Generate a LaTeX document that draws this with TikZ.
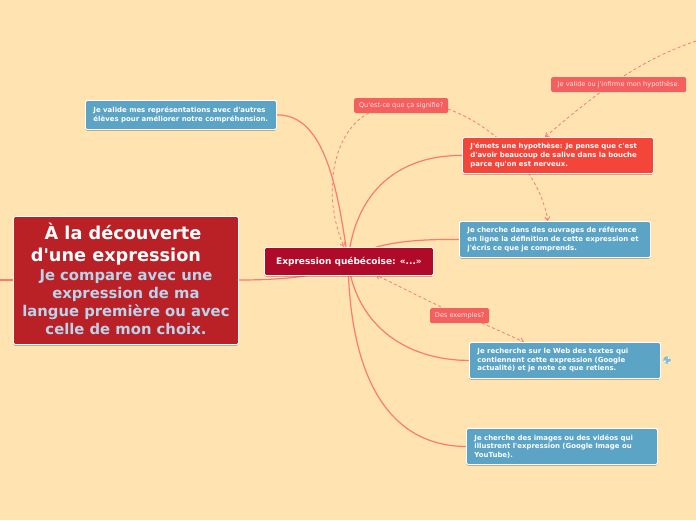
\documentclass[tikz,border=0pt]{standalone}
\usepackage{fontspec}
\setmainfont{DejaVu Sans}[Ligatures=TeXOff]
\usetikzlibrary{shadows,backgrounds,arrows.meta}
\definecolor{pagebg}{HTML}{FFE3B0}
\definecolor{linkc}{HTML}{F97B72}
\definecolor{bluebox}{HTML}{5CA4C6}
\definecolor{hypbox}{HTML}{F4453A}
\definecolor{centerbox}{HTML}{B00A2A}
\definecolor{titlebox}{HTML}{BA2126}
\definecolor{tagbox}{HTML}{F45F5F}
\definecolor{subtitle}{HTML}{B9D3EA}
\tikzset{
  x=1pt,y=-1pt,
  sz/.style 2 args={minimum width=#1pt,minimum height=#2pt},
  boxbase/.style={draw=white,line width=.9pt,rounded corners=1.5pt,
    drop shadow={shadow xshift=0pt,shadow yshift=-1.3pt,fill=black!60,opacity=.45},
    text=white,font=\fontsize{6.95}{8.6}\selectfont\bfseries,
    anchor=north west,inner sep=0pt,align=left},
  task/.style={boxbase,fill=bluebox},
  hyp/.style={boxbase,fill=hypbox},
  tag/.style={fill=tagbox,rounded corners=1.5pt,text=white!88!red,
    font=\fontsize{6.55}{8}\selectfont,anchor=north west,inner sep=0pt,align=center},
  link/.style={draw=linkc,line width=1.2pt},
  dashlink/.style={draw=linkc,line width=.8pt,dash pattern=on 3pt off 2.5pt},
  tip/.style={-{Straight Barb[length=3.5pt,width=5pt]}},
}
\begin{document}
\begin{tikzpicture}
\useasboundingbox (0,0) rectangle (696,520);
\coordinate (hub) at (348,261);
\coordinate (leftend) at (0,280);
\coordinate (rightend) at (696,41);
\coordinate (tipsig) at (344,247);
\coordinate (startsig) at (369,113);
\coordinate (startsigb) at (448,109);
\coordinate (tipouv) at (548,221);
\coordinate (tipemets) at (545,137);
\coordinate (tipcenter) at (376,275);
\coordinate (startex) at (441,307);
\coordinate (startexb) at (482,323);
\coordinate (tipweb) at (524,342);
\node[boxbase,fill=titlebox,sz={225}{128}] (title) at (13,216) {\parbox{225pt}{\centering
  \fontsize{17.7}{22}\selectfont À la découverte\rule{6pt}{0pt}\\ d'une expression\rule{20pt}{0pt}\par\vspace{1.5pt}
  \fontsize{14.8}{18}\selectfont\color{subtitle} Je compare avec une\\ expression de ma\\ langue première ou avec\\ celle de mon choix.\par\vspace{3pt}}};
\node[boxbase,fill=centerbox,sz={169}{28},align=center,
  font=\fontsize{9}{10}\selectfont\bfseries] (center) at (264,247) {Expression québécoise: «...»};
\node[task,sz={191}{29}] (valide) at (85,100) {\hspace*{8pt}\parbox{183pt}{Je valide mes représentations avec d'autres\\élèves pour améliorer notre compréhension.}};
\node[hyp,sz={191}{36}] (emets) at (462,137) {\hspace*{8pt}\parbox{183pt}{J'émets une hypothèse: Je pense que c'est\\d'avoir beaucoup de salive dans la bouche\\parce qu'on est nerveux.}};
\node[task,sz={191}{36}] (ouvrages) at (459,221) {\hspace*{8pt}\parbox{183pt}{Je cherche dans des ouvrages de référence\\en ligne la définition de cette expression et\\j'écris ce que je comprends.}};
\node[task,sz={191}{36}] (web) at (469,342) {\hspace*{8pt}\parbox{183pt}{Je recherche sur le Web des textes qui\\contiennent cette expression (Google\\actualité) et je note ce que retiens.}};
\node[task,sz={191}{36}] (images) at (466,428) {\hspace*{8pt}\parbox{183pt}{Je cherche des images ou des vidéos qui\\illustrent l'expression (Google Image ou\\YouTube).}};
\node[tag,sz={94}{15}] (signifie) at (354,98) {Qu'est-ce que ça signifie?};
\node[tag,sz={135}{15}] (infirme) at (551,77) {Je valide ou j'infirme mon hypothèse.};
\node[tag,sz={59}{15}] (exemples) at (430,308) {Des exemples?};
\node[circle,fill=bluebox!75!white,inner sep=0pt,minimum size=7.5pt] (globe) at (667,360) {};
\fill[white] (664.8,361.5) circle (1.3pt) (668.8,358) circle (1.1pt) (669,362.5) circle (.8pt);
\begin{scope}[on background layer]
  \fill[pagebg] (0,0) rectangle (696,520);
  \draw[link] (leftend) -- (title.west |- leftend);
  \draw[link] (title.east |- leftend) .. controls (290,280) and (330,275) .. (hub);
  \draw[link] (valide.east) .. controls (325,114) and (338,190) .. (hub);
  \draw[link] (emets.west) .. controls (400,155) and (355,190) .. (hub);
  \draw[link] (ouvrages.west) .. controls (410,239) and (370,243) .. (hub);
  \draw[link] (web.west) .. controls (400,360) and (355,320) .. (hub);
  \draw[link] (images.west) .. controls (390,446) and (350,380) .. (hub);
  \draw[dashlink,tip] (startsig) .. controls (335,130) and (320,190) .. (tipsig);
  \draw[dashlink,tip] (startsigb) .. controls (500,128) and (540,175) .. (tipouv);
  \draw[dashlink,tip] (rightend) .. controls (640,60) and (600,90) .. (tipemets);
  \draw[dashlink,tip] (startex) -- (tipcenter);
  \draw[dashlink,tip] (startexb) -- (tipweb);
\end{scope}
\end{tikzpicture}
\end{document}
